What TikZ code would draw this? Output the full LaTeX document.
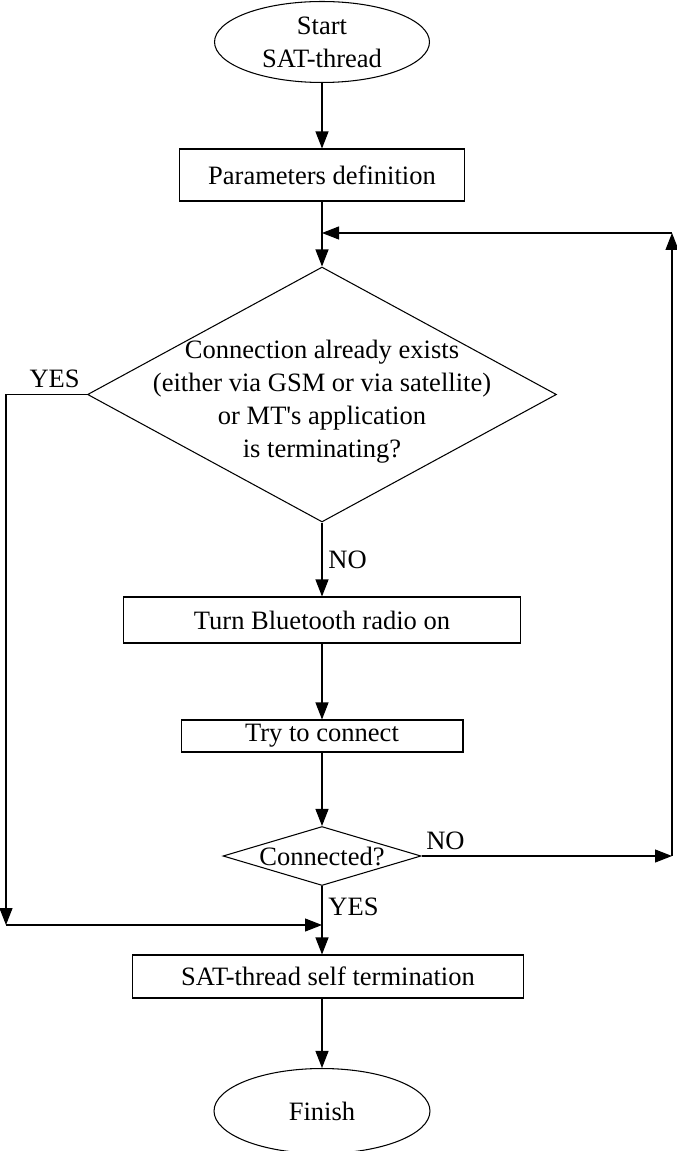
\documentclass[tikz,border=0pt]{standalone}
\usepackage{fontspec}
\setmainfont{Liberation Serif}
\usetikzlibrary{shapes.geometric,arrows.meta}
\tikzset{
  term/.style={draw,ellipse,inner sep=0pt,align=center},
  proc/.style={draw,rectangle,inner sep=0pt},
  cond/.style={draw,diamond,align=center},
}

\begin{document}
\begin{tikzpicture}[x=0.02cm,y=-0.02cm,line width=0.6pt,
  every node/.style={font=\fontsize{15.1}{18.8}\selectfont},
  >={Triangle[length=0.34cm,width=0.26cm]}]
  \useasboundingbox (0,0) rectangle (676,1151);
  \node[term,minimum width=4.3cm,minimum height=1.62cm] (start) at (322,42) {Start\\SAT-thread};
  \node[proc,minimum width=5.7cm,minimum height=1.04cm] (params) at (322,175) {Parameters definition};
  \node[cond,minimum width=9.38cm,minimum height=5.1cm] (exists) at (322,394.5) {};
  \node[align=center] (exists-text) at (322,402) {Connection already exists\\(either via GSM or via satellite)\\or MT\textquotesingle s application\\is terminating?};
  \node[proc,minimum width=7.96cm,minimum height=0.92cm] (radio) at (322,620) {Turn Bluetooth radio on};
  \node[proc,minimum width=5.64cm,minimum height=0.64cm] (try) at (322,736) {Try to connect};
  \node[cond,minimum width=3.96cm,minimum height=1.18cm,inner xsep=-0.8cm,inner ysep=-0.2cm] (connected) at (322,856) {Connected?};
  \node[proc,minimum width=7.84cm,minimum height=0.86cm] (selfterm) at (328,976.5) {SAT-thread self termination};
  \node[term,minimum width=4.32cm,minimum height=1.7cm] (finish) at (322,1111) {Finish};
  % corners of the two loops
  \coordinate (merge) at (322,233);
  \coordinate (loop-top) at (672,233);
  \coordinate (loop-bot) at (672,856);
  \coordinate (yes-top) at (6,394.5);
  \coordinate (yes-bot) at (6,925);
  \coordinate (join) at (322,925);
  \draw [->] (start) -- (params);
  \draw [->] (params) -- (exists);
  \draw [->] (exists) -- node [right] {NO} (radio);
  \draw [->] (radio) -- (try);
  \draw [->] (try) -- (connected);
  \draw [->] (connected) -- node [pos=0.3,right] {YES} (connected |- selfterm.north);
  \draw [->] (finish |- selfterm.south) -- (finish);
  \draw [->] (connected.east) -- node [pos=0.01,above right,inner xsep=1pt] {NO} (loop-bot);
  \draw [->] (loop-bot) -- (loop-top);
  \draw [->] (loop-top) -- (merge);
  \draw (exists.west) -- node [above,pos=0.4] {YES} (yes-top);
  \draw [->] (yes-top) -- (yes-bot);
  \draw [->] (yes-bot) -- (join);
\end{tikzpicture}
\end{document}
